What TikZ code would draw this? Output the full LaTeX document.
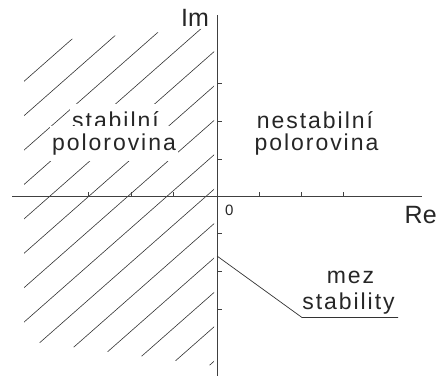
\documentclass[tikz,border=0pt]{standalone}
\usepackage{fontspec}
\setmainfont{Liberation Sans}
\newfontfamily\spaced[LetterSpace=8.5]{Liberation Sans}
\begin{document}
\begin{tikzpicture}[x=1pt,y=-1pt,
  axis/.style={draw=black!75, line width=1pt},
  hatchline/.style={draw=black!80, line width=0.6pt},
  tickmark/.style={draw=black!75, line width=0.8pt},
  txt/.style={font=\fontsize{23}{23}\spaced, text=black!85, inner xsep=2pt, inner ysep=6pt, text height=18pt, text depth=5pt, anchor=base},
  masked/.style={txt, fill=white},
  axlbl/.style={font=\fontsize{25}{25}\selectfont, text=black!85, inner sep=0pt, anchor=base west},
  leader/.style={draw=black!80, line width=0.7pt}]
\useasboundingbox (0,0) rectangle (440,376);
% hatching of the stable half-plane
\begin{scope}
  \clip (24,42.7) -- (214,28) -- (214,365.8) -- (24,340.6) -- cycle;
  \foreach \k in {0,...,13} {
    \pgfmathsetmacro{\cc}{-85+34.4*\k}
    \draw[hatchline] (0,\cc+187.44) -- (240,\cc-23.76);
  }
\end{scope}
% axes
\coordinate (xl) at (12,196);
\coordinate (xr) at (422,196);
\coordinate (yt) at (217,15);
\coordinate (yb) at (217,376);
\draw[axis] (xl) -- (xr);
\draw[axis] (yt) -- (yb);
\foreach \x in {88,131,173,259,301,343} \draw[tickmark] (\x,192) -- (\x,196);
\foreach \y in {83,121,159,233,271,309} \draw[tickmark] (217,\y) -- (222,\y);
% labels
\node[axlbl] (im) at (181,26.7) {Im};
\node[axlbl] (re) at (404.5,223.3) {Re};
\node[font=\fontsize{15}{15}\selectfont, text=black!85, inner sep=0pt, anchor=base west] (zero) at (225,215) {0};
\node[masked] (s1) at (115.5,128) {stabilní};
\node[masked] (s2) at (114,150) {polorovina};
\node[txt] (n1) at (315,128) {nestabilní};
\node[txt] (n2) at (316.5,150) {polorovina};
\node[txt] (m1) at (350.5,283) {mez};
\node[txt] (m2) at (348.5,309) {stability};
% boundary of stability leader
\coordinate (ms) at (217,256);
\coordinate (mk) at (302,317.5);
\coordinate (me) at (398,317.5);
\draw[leader] (ms) -- (mk) -- (me);
\end{tikzpicture}
\end{document}
